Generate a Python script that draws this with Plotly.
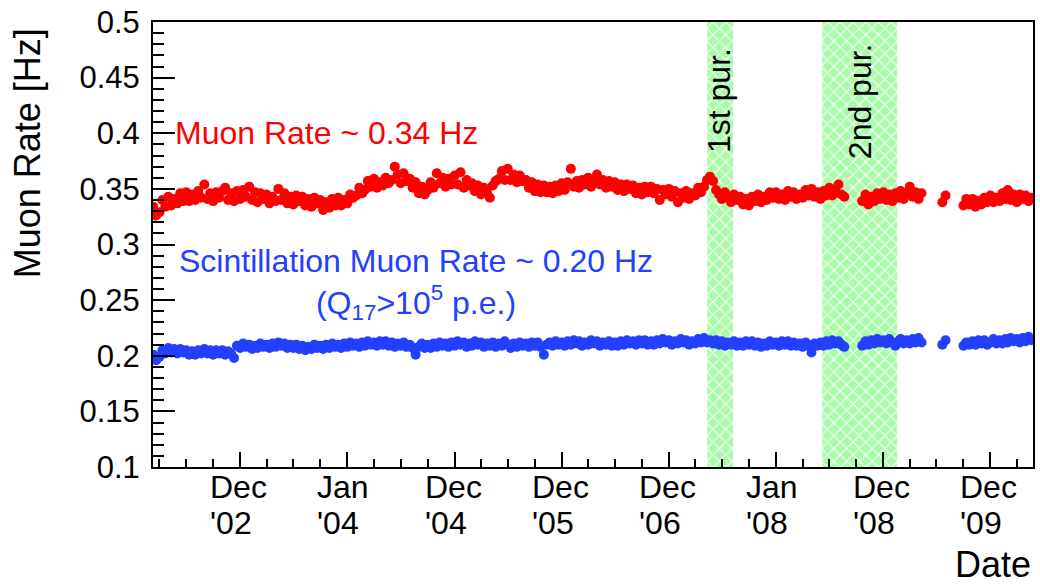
import pandas as pd
import plotly.graph_objects as go

# Rates averaged over ~10-day periods (1st, 11th, 21st of each month)
dates = [
    # 2002
    "2002-03-11", "2002-03-21",
    "2002-04-01", "2002-04-11", "2002-04-21", "2002-05-01", "2002-05-11", "2002-05-21",
    "2002-06-01", "2002-06-11", "2002-06-21", "2002-07-01", "2002-07-11", "2002-07-21",
    "2002-08-01", "2002-08-11", "2002-08-21", "2002-09-01", "2002-09-11", "2002-09-21",
    "2002-10-01", "2002-10-11", "2002-10-21", "2002-11-01", "2002-11-11", "2002-11-21",
    "2002-12-01", "2002-12-11", "2002-12-21",
    # 2003
    "2003-01-01", "2003-01-11", "2003-01-21", "2003-02-01", "2003-02-11", "2003-02-21",
    "2003-03-01", "2003-03-11", "2003-03-21", "2003-04-01", "2003-04-11", "2003-04-21",
    "2003-05-01", "2003-05-11", "2003-05-21", "2003-06-01", "2003-06-11", "2003-06-21",
    "2003-07-01", "2003-07-11", "2003-07-21", "2003-08-01", "2003-08-11", "2003-08-21",
    "2003-09-01", "2003-09-11", "2003-09-21", "2003-10-01", "2003-10-11", "2003-10-21",
    "2003-11-01", "2003-11-11", "2003-11-21", "2003-12-01", "2003-12-11", "2003-12-21",
    # 2004
    "2004-01-01", "2004-01-11", "2004-01-21", "2004-02-01", "2004-02-11", "2004-02-21",
    "2004-03-01", "2004-03-11", "2004-03-21", "2004-04-01", "2004-04-11", "2004-04-21",
    "2004-05-01", "2004-05-11", "2004-05-21", "2004-06-01", "2004-06-11", "2004-06-21",
    "2004-07-01", "2004-07-11", "2004-07-21", "2004-08-01", "2004-08-11", "2004-08-21",
    "2004-09-01", "2004-09-11", "2004-09-21", "2004-10-01", "2004-10-11", "2004-10-21",
    "2004-11-01", "2004-11-11", "2004-11-21", "2004-12-01", "2004-12-11", "2004-12-21",
    # 2005
    "2005-01-01", "2005-01-11", "2005-01-21", "2005-02-01", "2005-02-11", "2005-02-21",
    "2005-03-01", "2005-03-11", "2005-03-21", "2005-04-01", "2005-04-11", "2005-04-21",
    "2005-05-01", "2005-05-11", "2005-05-21", "2005-06-01", "2005-06-11", "2005-06-21",
    "2005-07-01", "2005-07-11", "2005-07-21", "2005-08-01", "2005-08-11", "2005-08-21",
    "2005-09-01", "2005-09-11", "2005-09-21", "2005-10-01", "2005-10-11", "2005-10-21",
    "2005-11-01", "2005-11-11", "2005-11-21", "2005-12-01", "2005-12-11", "2005-12-21",
    # 2006
    "2006-01-01", "2006-01-11", "2006-01-21", "2006-02-01", "2006-02-11", "2006-02-21",
    "2006-03-01", "2006-03-11", "2006-03-21", "2006-04-01", "2006-04-11", "2006-04-21",
    "2006-05-01", "2006-05-11", "2006-05-21", "2006-06-01", "2006-06-11", "2006-06-21",
    "2006-07-01", "2006-07-11", "2006-07-21", "2006-08-01", "2006-08-11", "2006-08-21",
    "2006-09-01", "2006-09-11", "2006-09-21", "2006-10-01", "2006-10-11", "2006-10-21",
    "2006-11-01", "2006-11-11", "2006-11-21", "2006-12-01", "2006-12-11", "2006-12-21",
    # 2007
    "2007-01-01", "2007-01-11", "2007-01-21", "2007-02-01", "2007-02-11", "2007-02-21",
    "2007-03-01", "2007-03-11", "2007-03-21", "2007-04-01", "2007-04-11", "2007-04-21",
    "2007-05-01", "2007-05-11", "2007-05-21", "2007-06-01", "2007-06-11", "2007-06-21",
    "2007-07-01", "2007-07-11", "2007-07-21", "2007-08-01", "2007-08-11", "2007-08-21",
    "2007-09-01", "2007-09-11", "2007-09-21", "2007-10-01", "2007-10-11", "2007-10-21",
    "2007-11-01", "2007-11-11", "2007-11-21", "2007-12-01", "2007-12-11", "2007-12-21",
    # 2008
    "2008-01-01", "2008-01-11", "2008-01-21", "2008-02-01", "2008-02-11", "2008-02-21",
    "2008-03-01", "2008-03-11", "2008-03-21", "2008-04-01", "2008-04-11", "2008-04-21",
    "2008-05-01", "2008-05-11", "2008-05-21", "2008-06-01", "2008-06-11", "2008-06-21",
    "2008-07-01", "2008-07-11", "2008-07-21", "2008-08-01", "2008-08-11", "2008-08-21",
    "2008-10-21",
    "2008-11-01", "2008-11-11", "2008-11-21", "2008-12-01", "2008-12-11", "2008-12-21",
    # 2009
    "2009-01-01", "2009-01-11", "2009-01-21", "2009-02-01", "2009-02-11", "2009-02-21",
    "2009-03-01", "2009-03-11", "2009-03-21", "2009-04-01", "2009-04-11", "2009-04-21",
    "2009-05-01", "2009-05-11",
    "2009-07-21", "2009-08-01",
    "2009-10-01", "2009-10-11", "2009-10-21", "2009-11-01", "2009-11-11", "2009-11-21",
    "2009-12-01", "2009-12-11", "2009-12-21",
    # 2010
    "2010-01-01", "2010-01-11", "2010-01-21", "2010-02-01", "2010-02-11", "2010-02-21",
    "2010-03-01", "2010-03-11", "2010-03-21", "2010-04-01", "2010-04-11", "2010-04-21",
    "2010-05-01", "2010-05-11", "2010-05-21",
]

# Total muon rate [Hz]
muon_rate = [
    # 2002
    0.334, 0.326,
    0.329, 0.340, 0.334, 0.343, 0.335, 0.341, 0.337, 0.346, 0.339, 0.347, 0.339, 0.345,
    0.340, 0.348, 0.342, 0.354, 0.341, 0.346, 0.339, 0.347, 0.342, 0.348, 0.351, 0.340,
    0.346, 0.339, 0.348,
    # 2003
    0.341, 0.349, 0.343, 0.352, 0.340, 0.347, 0.338, 0.346, 0.341, 0.345, 0.337, 0.343,
    0.339, 0.350, 0.340, 0.346, 0.337, 0.343, 0.336, 0.344, 0.339, 0.343, 0.335, 0.341,
    0.334, 0.342, 0.337, 0.340, 0.331, 0.338, 0.333, 0.341, 0.335, 0.342, 0.335, 0.340,
    # 2004
    0.337, 0.345, 0.342, 0.344, 0.351, 0.346, 0.349, 0.357, 0.352, 0.359, 0.351, 0.356,
    0.353, 0.360, 0.355, 0.358, 0.370, 0.363, 0.355, 0.364, 0.357, 0.359, 0.351, 0.356,
    0.346, 0.352, 0.345, 0.349, 0.356, 0.351, 0.364, 0.355, 0.360, 0.352, 0.359, 0.354,
    # 2005
    0.362, 0.354, 0.365, 0.351, 0.358, 0.353, 0.355, 0.348, 0.353, 0.345, 0.351, 0.347,
    0.342, 0.353, 0.357, 0.359, 0.366, 0.358, 0.368, 0.358, 0.363, 0.356, 0.362, 0.357,
    0.358, 0.351, 0.356, 0.348, 0.354, 0.347, 0.353, 0.347, 0.352, 0.346, 0.353, 0.348,
    # 2006
    0.355, 0.349, 0.356, 0.368, 0.352, 0.357, 0.351, 0.358, 0.354, 0.360, 0.352, 0.357,
    0.363, 0.354, 0.358, 0.351, 0.357, 0.352, 0.356, 0.349, 0.354, 0.348, 0.354, 0.350,
    0.353, 0.346, 0.351, 0.345, 0.352, 0.347, 0.352, 0.346, 0.350, 0.340, 0.349, 0.345,
    # 2007
    0.350, 0.343, 0.348, 0.338, 0.346, 0.342, 0.348, 0.341, 0.346, 0.344, 0.351, 0.347,
    0.352, 0.358, 0.361, 0.357, 0.349, 0.345, 0.341, 0.347, 0.343, 0.338, 0.345, 0.340,
    0.343, 0.336, 0.341, 0.335, 0.343, 0.339, 0.345, 0.338, 0.343, 0.340, 0.347, 0.342,
    # 2008
    0.347, 0.341, 0.345, 0.340, 0.348, 0.343, 0.347, 0.341, 0.345, 0.342, 0.349, 0.344,
    0.350, 0.343, 0.347, 0.341, 0.348, 0.344, 0.351, 0.344, 0.349, 0.354, 0.345, 0.343,
    0.339,
    0.345, 0.336, 0.343, 0.339, 0.346, 0.341,
    # 2009
    0.347, 0.340, 0.345, 0.339, 0.346, 0.342, 0.348, 0.341, 0.346, 0.352, 0.343, 0.347,
    0.341, 0.346,
    0.338, 0.344,
    0.335, 0.341, 0.336, 0.341, 0.334, 0.339, 0.336, 0.342, 0.338,
    # 2010
    0.344, 0.338, 0.342, 0.339, 0.346, 0.341, 0.349, 0.340, 0.345, 0.338, 0.345, 0.341,
    0.344, 0.339, 0.342,
]

# Scintillation muon rate (Q17 > 1e5 p.e.) [Hz]
scint_rate = [
    # 2002
    0.201, 0.196,
    0.199, 0.205, 0.202, 0.207, 0.203, 0.206, 0.202, 0.206, 0.203, 0.205, 0.201, 0.204,
    0.201, 0.205, 0.202, 0.206, 0.202, 0.205, 0.201, 0.205, 0.202, 0.205, 0.201, 0.204,
    0.202, 0.198, 0.209,
    # 2003
    0.207, 0.211, 0.208, 0.210, 0.206, 0.209, 0.207, 0.211, 0.208, 0.210, 0.207, 0.211,
    0.208, 0.212, 0.209, 0.211, 0.207, 0.210, 0.207, 0.210, 0.206, 0.209, 0.205, 0.208,
    0.206, 0.210, 0.207, 0.209, 0.206, 0.210, 0.207, 0.211, 0.208, 0.210, 0.207, 0.211,
    # 2004
    0.208, 0.212, 0.209, 0.211, 0.208, 0.212, 0.209, 0.213, 0.210, 0.212, 0.209, 0.213,
    0.210, 0.213, 0.209, 0.212, 0.208, 0.211, 0.209, 0.212, 0.208, 0.210, 0.207, 0.201,
    0.208, 0.211, 0.207, 0.210, 0.207, 0.211, 0.208, 0.212, 0.209, 0.211, 0.208, 0.212,
    # 2005
    0.209, 0.213, 0.210, 0.212, 0.208, 0.211, 0.209, 0.213, 0.210, 0.212, 0.208, 0.211,
    0.209, 0.212, 0.208, 0.211, 0.209, 0.213, 0.210, 0.207, 0.211, 0.208, 0.212, 0.209,
    0.211, 0.208, 0.212, 0.209, 0.212, 0.208, 0.201, 0.210, 0.212, 0.209, 0.213, 0.210,
    # 2006
    0.212, 0.209, 0.213, 0.210, 0.214, 0.211, 0.213, 0.209, 0.212, 0.210, 0.214, 0.211,
    0.213, 0.209, 0.212, 0.210, 0.213, 0.209, 0.212, 0.209, 0.213, 0.210, 0.214, 0.211,
    0.213, 0.210, 0.214, 0.211, 0.214, 0.210, 0.213, 0.210, 0.214, 0.211, 0.215, 0.212,
    # 2007
    0.214, 0.210, 0.213, 0.211, 0.215, 0.212, 0.214, 0.210, 0.213, 0.211, 0.215, 0.212,
    0.216, 0.212, 0.214, 0.211, 0.214, 0.210, 0.213, 0.209, 0.212, 0.210, 0.213, 0.209,
    0.212, 0.209, 0.213, 0.210, 0.213, 0.209, 0.212, 0.208, 0.211, 0.209, 0.213, 0.210,
    # 2008
    0.212, 0.209, 0.213, 0.210, 0.213, 0.209, 0.212, 0.209, 0.211, 0.208, 0.212, 0.209,
    0.203, 0.211, 0.209, 0.212, 0.209, 0.213, 0.210, 0.214, 0.211, 0.213, 0.210, 0.208,
    0.209,
    0.213, 0.210, 0.214, 0.211, 0.215, 0.212,
    # 2009
    0.214, 0.211, 0.215, 0.212, 0.209, 0.213, 0.215, 0.211, 0.214, 0.211, 0.215, 0.212,
    0.216, 0.212,
    0.210, 0.214,
    0.209, 0.212, 0.210, 0.213, 0.210, 0.214, 0.211, 0.214, 0.210,
    # 2010
    0.212, 0.215, 0.211, 0.214, 0.211, 0.215, 0.212, 0.216, 0.213, 0.215, 0.212, 0.216,
    0.213, 0.217, 0.214,
]
assert len(dates) == len(muon_rate) == len(scint_rate), (len(dates), len(muon_rate), len(scint_rate))

# Liquid scintillator purification campaigns
purification_labels = ["1st pur.", "2nd pur."]
purification_start = ["2007-05-12", "2008-06-07"]
purification_end = ["2007-08-08", "2009-02-17"]
purification_label_x = ["2007-06-21", "2008-10-14"]

# Date axis ticks (month and year lines of each label)
x_tick_dates = ["2003-01-01", "2004-01-01", "2005-01-01", "2006-01-01",
                "2007-01-01", "2008-01-01", "2009-01-01", "2010-01-01"]
x_tick_months = ["Dec", "Jan", "Dec", "Dec", "Dec", "Jan", "Dec", "Dec"]
x_tick_years = ["'02", "'04", "'04", "'05", "'06", "'08", "'08", "'09"]
y_tick_vals = [0.1, 0.15, 0.2, 0.25, 0.3, 0.35, 0.4, 0.45, 0.5]
y_tick_labels = ["0.1", "0.15", "0.2", "0.25", "0.3", "0.35", "0.4", "0.45", "0.5"]

x_range = ["2002-03-10", "2010-05-26"]
y_range = [0.1, 0.50001]

FONT = "Liberation Sans, Arial, Helvetica, sans-serif"
RED = "#ff0000"
BLUE = "#2340ff"
HATCH_GREEN = "#a8fca8"
LABEL_SIZE = 32

fig = go.Figure()

# hatched purification bands
for s, e in zip(purification_start, purification_end):
    fig.add_trace(go.Scatter(
        x=[s, s, e, e, s], y=[0.1, 0.5, 0.5, 0.1, 0.1],
        mode="lines", line=dict(width=0), fill="toself",
        fillpattern=dict(shape="x", bgcolor=HATCH_GREEN, fgcolor="white", fgopacity=1,
                         size=9, solidity=0.22),
        hoverinfo="skip", showlegend=False,
    ))

fig.add_trace(go.Scatter(x=dates, y=muon_rate, mode="markers",
                         marker=dict(color=RED, size=10, line=dict(width=0)),
                         showlegend=False, name="Muon Rate"))
fig.add_trace(go.Scatter(x=dates, y=scint_rate, mode="markers",
                         marker=dict(color=BLUE, size=10, line=dict(width=0)),
                         showlegend=False, name="Scintillation Muon Rate"))

annotations = []
# two-line date labels below the axis, lines left-aligned in a fixed-width box
for d, m, yr in zip(x_tick_dates, x_tick_months, x_tick_years):
    annotations.append(dict(x=d, xref="x", y=-0.046, yref="paper", yanchor="middle",
                            xanchor="center", align="left", width=60, text=m,
                            showarrow=False,
                            font=dict(family=FONT, size=LABEL_SIZE, color="black")))
    annotations.append(dict(x=d, xref="x", y=-0.126, yref="paper", yanchor="middle",
                            xanchor="center", align="left", width=60, text=yr,
                            showarrow=False,
                            font=dict(family=FONT, size=LABEL_SIZE, color="black")))
for lbl, xd in zip(purification_labels, purification_label_x):
    annotations.append(dict(x=xd, xref="x", y=0.429, yref="y", text=lbl, textangle=-90,
                            xanchor="center", yanchor="middle", showarrow=False,
                            font=dict(family=FONT, size=LABEL_SIZE, color="black")))
annotations += [
    dict(x=1, xref="paper", y=-0.22, yref="paper", xanchor="right",
         yanchor="middle", text="Date", showarrow=False,
         font=dict(family=FONT, size=36, color="black")),
    dict(x=0, xref="paper", xshift=-126, y=0.705, yref="paper", xanchor="center",
         yanchor="middle", textangle=-90, text="Muon Rate [Hz]", showarrow=False,
         font=dict(family=FONT, size=36, color="black")),
    dict(x=0.0227, xref="paper", y=0.7506, yref="paper", xanchor="left", yanchor="middle",
         text="Muon Rate ~ 0.34 Hz", showarrow=False,
         font=dict(family=FONT, size=LABEL_SIZE, color=RED)),
    dict(x=0.2988, xref="paper", y=0.4106, yref="paper", xanchor="center", yanchor="middle",
         align="center",
         text="Scintillation Muon Rate ~ 0.20 Hz<br>(Q<sub>17</sub>&gt;10<sup>5</sup> p.e.)",
         showarrow=False, font=dict(family=FONT, size=LABEL_SIZE, color=BLUE)),
]

fig.update_layout(
    width=1040, height=588,
    margin=dict(l=153, r=5, t=14, b=121),
    paper_bgcolor="white", plot_bgcolor="white",
    font=dict(family=FONT, size=LABEL_SIZE, color="black"),
    annotations=annotations,
    showlegend=False,
)
fig.update_xaxes(
    type="date", range=x_range, showgrid=False, zeroline=False,
    showline=True, linecolor="black", linewidth=2, mirror=True,
    ticks="inside", ticklen=15, tickwidth=1.5, tickcolor="black",
    tickmode="array", tickvals=x_tick_dates, showticklabels=False,
    minor=dict(ticks="inside", ticklen=8, tickwidth=1.5, tickcolor="black",
               tickmode="array",
               tickvals=list(pd.date_range("2002-04-01", "2010-04-01", freq="QS")),
               showgrid=False),
)
fig.update_yaxes(
    range=y_range, showgrid=False, zeroline=False,
    showline=True, linecolor="black", linewidth=2, mirror=True,
    ticks="inside", ticklen=22, tickwidth=1.5, tickcolor="black",
    tickmode="array", tickvals=y_tick_vals, ticktext=y_tick_labels,
    tickfont=dict(family=FONT, size=31, color="black"), ticklabelstandoff=5,
    ticklabeloverflow="allow",
    minor=dict(ticks="inside", ticklen=11, tickwidth=1.5, tickcolor="black",
               tickmode="linear", tick0=0.1, dtick=0.01, showgrid=False),
)

fig.write_html("out.html")
